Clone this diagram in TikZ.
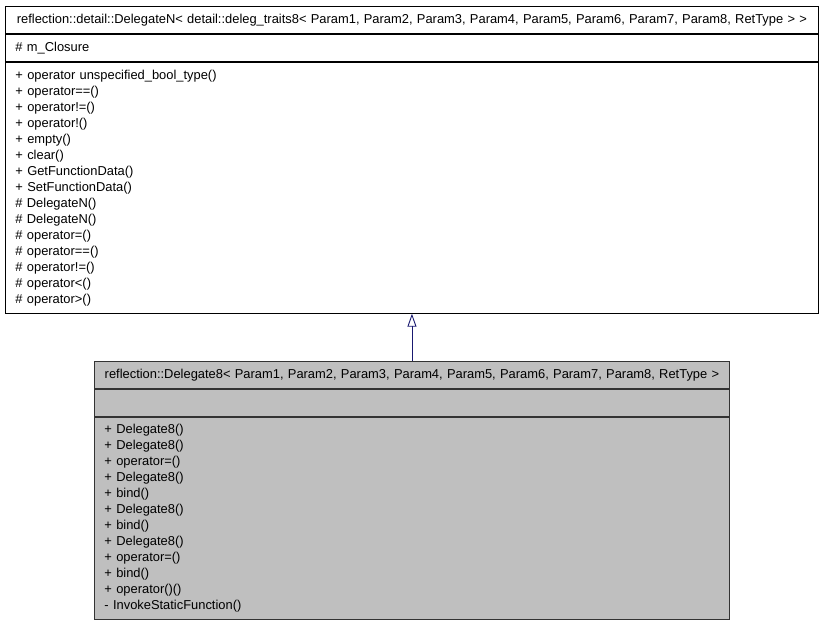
\documentclass[tikz,border=0pt]{standalone}
\usepackage{fontspec}
\setmainfont{Liberation Sans}
\usetikzlibrary{arrows.meta,positioning}
\definecolor{classgrey}{HTML}{BFBFBF}
\definecolor{edgeblue}{HTML}{191970}
\tikzset{
  part/.style={draw=black, line width=0.9pt, fill=white, anchor=north west,
               inner xsep=10pt, inner ysep=0pt, text=black,
               font=\fontsize{12.9}{16}\selectfont},
  titlepart/.style={part, minimum height=27pt, align=center},
  attrpart/.style={part, minimum height=27pt, align=left},
  membpart/.style={part, align=left},
  % the class this diagram is about is shaded grey
  current/.style={fill=classgrey, draw=black!80},
  inherit/.style={draw=edgeblue, line width=0.9pt,
                  -{Triangle[open, length=13pt, width=9pt]}},
}

\begin{document}
\begin{tikzpicture}
  \useasboundingbox (0pt,0pt) rectangle (824pt,-624pt);

  % --- base class ------------------------------------------------------------
  \node[titlepart, text width=793pt] (baseTitle) at (5pt,-6pt)
    {reflection::detail::DelegateN< detail::deleg\_traits8< Param1, Param2, Param3, Param4, Param5, Param6, Param7, Param8, RetType > >};
  \node[attrpart, text width=793pt, below=0pt of baseTitle.south west, anchor=north west] (baseAttr)
    {\# m\_Closure};
  \node[membpart, text width=793pt, minimum height=251pt,
        below=0pt of baseAttr.south west, anchor=north west] (baseMeth)
    {+ operator unspecified\_bool\_type()\\
     + operator==()\\
     + operator!=()\\
     + operator!()\\
     + empty()\\
     + clear()\\
     + GetFunctionData()\\
     + SetFunctionData()\\
     \# DelegateN()\\
     \# DelegateN()\\
     \# operator=()\\
     \# operator==()\\
     \# operator!=()\\
     \# operator<()\\
     \# operator>()};

  % --- derived class -----------------------------------------------------------
  \node[titlepart, current, text width=615pt] (derivedTitle) at (94pt,-361pt)
    {reflection::Delegate8< Param1, Param2, Param3, Param4, Param5, Param6, Param7, Param8, RetType >};
  \node[attrpart, current, text width=615pt,
        below=0pt of derivedTitle.south west, anchor=north west] (derivedAttr) {};
  \node[membpart, current, text width=615pt, minimum height=202pt,
        below=0pt of derivedAttr.south west, anchor=north west] (derivedMeth)
    {+ Delegate8()\\
     + Delegate8()\\
     + operator=()\\
     + Delegate8()\\
     + bind()\\
     + Delegate8()\\
     + bind()\\
     + Delegate8()\\
     + operator=()\\
     + bind()\\
     + operator()()\\
     - InvokeStaticFunction()};

  \draw[inherit] (derivedTitle.north) -- (baseMeth.south);
\end{tikzpicture}
\end{document}
